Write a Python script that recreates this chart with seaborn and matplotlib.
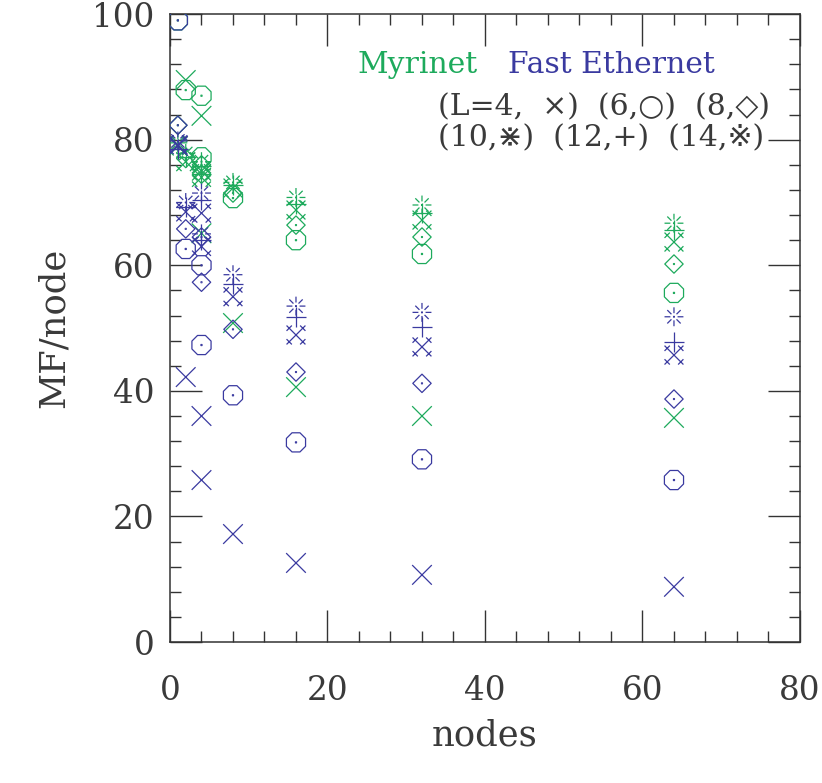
import numpy as np
import pandas as pd
import matplotlib
matplotlib.use("Agg")
import matplotlib.pyplot as plt
from matplotlib.path import Path
from matplotlib.markers import MarkerStyle
from matplotlib.ticker import MultipleLocator
import seaborn as sns

# ---------------- data ----------------
nodes = [1, 2, 4, 4, 8, 16, 32, 64]
L_values = [4, 6, 8, 10, 12, 14]

myrinet_L4 = [79.0, 89.5, 83.8, 65.1, 50.8, 40.6, 36.0, 35.7]
myrinet_L6 = [99.0, 87.9, 87.0, 77.2, 70.7, 64.0, 61.8, 55.6]
myrinet_L8 = [82.3, 77.0, 76.0, 74.5, 71.5, 66.4, 64.5, 60.2]
myrinet_L10 = [79.0, 76.5, 75.0, 74.0, 72.3, 68.8, 67.2, 63.7]
myrinet_L12 = [78.5, 77.2, 75.8, 74.5, 72.8, 69.8, 68.3, 65.6]
myrinet_L14 = [79.5, 77.8, 76.5, 75.2, 73.2, 70.8, 69.6, 66.7]

ethernet_L4 = [79.0, 42.2, 36.0, 25.8, 17.2, 12.6, 10.7, 8.8]
ethernet_L6 = [99.0, 62.6, 60.0, 47.3, 39.3, 31.8, 29.1, 25.8]
ethernet_L8 = [82.3, 65.8, 64.5, 57.3, 49.8, 43.0, 41.2, 38.7]
ethernet_L10 = [79.2, 68.5, 68.3, 63.0, 55.0, 48.9, 47.0, 45.7]
ethernet_L12 = [78.5, 69.3, 70.4, 64.0, 57.0, 51.8, 50.2, 47.8]
ethernet_L14 = [79.8, 70.0, 71.5, 65.0, 58.5, 53.5, 52.5, 51.8]

networks = ["Myrinet", "Fast Ethernet"]
x_ticks = [0, 20, 40, 60, 80]
y_ticks = [0, 20, 40, 60, 80, 100]
legend_line1 = "(L=4,  \u00d7)  (6,\u25cb)  (8,\u25c7)"
legend_line2 = "(10,\u22c7)  (12,+)  (14,\u203b)"

# ---------------- marker shapes ----------------
def seg_path(segments, dots=()):
    verts, codes = [], []
    for (a, b) in segments:
        verts += [a, b]
        codes += [Path.MOVETO, Path.LINETO]
    for (cx, cy, d) in dots:
        sq = [(cx - d, cy - d), (cx + d, cy - d), (cx + d, cy + d), (cx - d, cy + d), (cx - d, cy - d)]
        verts += sq
        codes += [Path.MOVETO, Path.LINETO, Path.LINETO, Path.LINETO, Path.CLOSEPOLY]
    return Path(verts, codes)

def octagon():
    ang = np.deg2rad(22.5 + 45 * np.arange(8))
    pts = list(zip(np.cos(ang), np.sin(ang)))
    verts = pts + [pts[0]]
    codes = [Path.MOVETO] + [Path.LINETO] * 7 + [Path.CLOSEPOLY]
    d = 0.05
    verts += [(-d, -d), (d, -d), (d, d), (-d, d), (-d, -d)]
    codes += [Path.MOVETO, Path.LINETO, Path.LINETO, Path.LINETO, Path.CLOSEPOLY]
    return Path(verts, codes)

def diamond():
    verts = [(1, 0), (0, 1), (-1, 0), (0, -1), (1, 0)]
    codes = [Path.MOVETO, Path.LINETO, Path.LINETO, Path.LINETO, Path.CLOSEPOLY]
    d = 0.05
    verts += [(-d, -d), (d, -d), (d, d), (-d, d), (-d, -d)]
    codes += [Path.MOVETO, Path.LINETO, Path.LINETO, Path.LINETO, Path.CLOSEPOLY]
    return Path(verts, codes)

def cross_x():
    return seg_path([((-1, -1), (1, 1)), ((-1, 1), (1, -1))])

def double_x():
    segs = [((-1, -1), (1, 1)), ((-1, 1), (1, -1))]
    c, h = 0.72, 0.28
    for sx in (-1, 1):
        for sy in (-1, 1):
            cx, cy = sx * c, sy * c
            segs.append(((cx - sx * h, cy + sy * h), (cx + sx * h, cy - sy * h)))
    return seg_path(segs)

def plus():
    return seg_path([((-1, 0), (1, 0)), ((0, -1), (0, 1))])

def burst():
    segs = []
    for a in np.deg2rad(np.arange(0, 360, 45)):
        r1, r2 = 0.38, 1.0
        segs.append(((r1 * np.cos(a), r1 * np.sin(a)), (r2 * np.cos(a), r2 * np.sin(a))))
    return seg_path(segs, dots=[(0, 0, 0.04)])

marker_for_L = {4: cross_x(), 6: octagon(), 8: diamond(), 10: double_x(), 12: plus(), 14: burst()}
size_for_L = {4: 200, 6: 190, 8: 175, 10: 185, 12: 200, 14: 185}

# ---------------- style ----------------
sns.set_theme(style="white")
plt.rcParams["font.family"] = ["DejaVu Serif", "DejaVu Sans"]
text_color = "#3a3a3a"
green = "#1daa5c"
blue = "#3a3aa0"

fig = plt.figure(figsize=(8.22, 7.83), dpi=100)
ax = fig.add_axes([0.2068, 0.180, 0.7664, 0.802])

series = {
    "Myrinet": [myrinet_L4, myrinet_L6, myrinet_L8, myrinet_L10, myrinet_L12, myrinet_L14],
    "Fast Ethernet": [ethernet_L4, ethernet_L6, ethernet_L8, ethernet_L10, ethernet_L12, ethernet_L14],
}
colors = {"Myrinet": green, "Fast Ethernet": blue}

for net in networks:
    for L, vals in zip(L_values, series[net]):
        df = pd.DataFrame({"nodes": nodes, "MF": vals})
        sns.scatterplot(data=df, x="nodes", y="MF", ax=ax,
                        marker=MarkerStyle(marker_for_L[L]), s=size_for_L[L],
                        facecolor="none", edgecolor=colors[net], linewidth=0.9,
                        legend=False, zorder=3)

ax.set_xlim(0, 80)
ax.set_ylim(0, 100)
ax.set_xticks(x_ticks)
ax.set_yticks(y_ticks)
ax.xaxis.set_minor_locator(MultipleLocator(4))
ax.yaxis.set_minor_locator(MultipleLocator(4))
ax.tick_params(which="both", direction="in", top=True, right=True, bottom=True, left=True,
               color="#333333", width=1.0)
ax.tick_params(which="major", length=23)
ax.tick_params(which="minor", length=8)
ax.tick_params(axis="x", which="major", pad=24, labelsize=23.5, labelcolor=text_color)
ax.tick_params(axis="y", which="major", pad=11, labelsize=23.5, labelcolor=text_color)
for sp in ax.spines.values():
    sp.set_color("#333333")
    sp.set_linewidth(1.1)

ax.set_xlabel("nodes", fontsize=25.5, color=text_color)
ax.set_ylabel("MF/node", fontsize=25.5, color=text_color)
ax.xaxis.set_label_coords(0.5, -0.122)
ax.yaxis.set_label_coords(-0.158, 0.5)

ax.text(0.298, 0.906, "Myrinet", transform=ax.transAxes, fontsize=21.5, color=green,
        ha="left", va="baseline")
ax.text(0.537, 0.906, "Fast Ethernet", transform=ax.transAxes, fontsize=21.5, color=blue,
        ha="left", va="baseline")
ax.text(0.425, 0.838, legend_line1, transform=ax.transAxes, fontsize=21.5, color=text_color,
        ha="left", va="baseline")
ax.text(0.425, 0.789, legend_line2, transform=ax.transAxes, fontsize=21.5, color=text_color,
        ha="left", va="baseline")

fig.savefig("out.png", dpi=100)
